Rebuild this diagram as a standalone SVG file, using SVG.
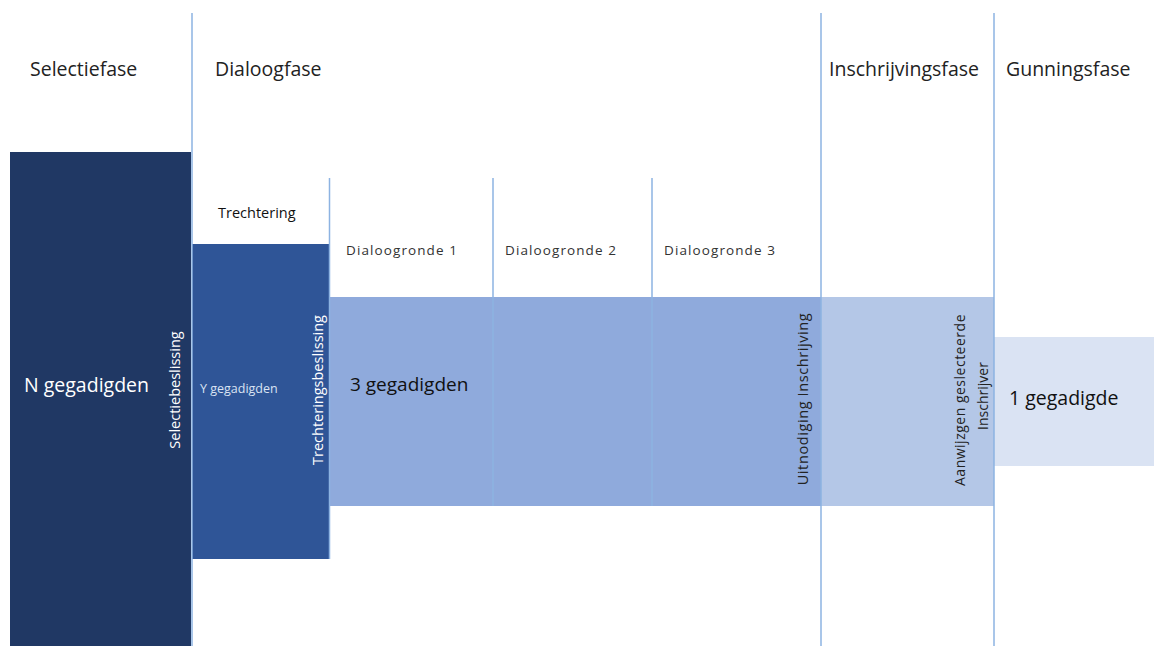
<svg xmlns="http://www.w3.org/2000/svg" width="1154" height="646" viewBox="0 0 1154 646">
<style>
text{font-family:"Open Sans","Liberation Sans",sans-serif}
.ph{font-size:19.5px;fill:#222}
.rd{font-size:13.5px;fill:#333;letter-spacing:1.1px}
.ln{stroke:#8DB3E2;stroke-width:1.5;fill:none}
</style>
<rect width="1154" height="646" fill="#fff"/>
<g id="n-selectie">
<rect x="10" y="152" width="181" height="494" fill="#203864"/>
<text x="24" y="392" font-size="19.5" fill="#fff">N gegadigden</text>
<text transform="translate(180,390) rotate(-90)" text-anchor="middle" font-size="14.5" fill="#fff">Selectiebeslissing</text>
</g>
<g id="n-trechter">
<rect x="192" y="244" width="137" height="315" fill="#2F5597"/>
<text x="200" y="393" font-size="12.5" fill="#DAE3F3">Y gegadigden</text>
<text transform="translate(323,390) rotate(-90)" text-anchor="middle" font-size="14.5" fill="#fff">Trechteringsbeslissing</text>
</g>
<g id="n-dialoog">
<rect x="330" y="297" width="491" height="209" fill="#8FAADC"/>
<text x="350" y="391" font-size="19" fill="#111">3 gegadigden</text>
<text transform="translate(808,399) rotate(-90)" text-anchor="middle" font-size="14.5" fill="#222" letter-spacing="0.6">Uitnodiging Inschrijving</text>
</g>
<g id="n-inschrijving">
<rect x="821" y="297" width="173" height="209" fill="#B4C7E7"/>
<text transform="translate(965,400) rotate(-90)" text-anchor="middle" font-size="14" fill="#222" letter-spacing="0.5">Aanwijzgen geslecteerde</text>
<text transform="translate(988,396) rotate(-90)" text-anchor="middle" font-size="14" fill="#222">Inschrijver</text>
</g>
<g id="n-gunning">
<rect x="994" y="337" width="160" height="129" fill="#DAE3F3"/>
<text x="1009" y="405" font-size="19.5" fill="#111">1 gegadigde</text>
</g>
<g id="labels">
<text class="ph" x="30" y="76">Selectiefase</text>
<text class="ph" x="215" y="76">Dialoogfase</text>
<text class="ph" x="829" y="76">Inschrijvingsfase</text>
<text class="ph" x="1006" y="76">Gunningsfase</text>
<text x="218" y="218" font-size="14.5" fill="#111">Trechtering</text>
<text class="rd" x="346" y="255">Dialoogronde 1</text>
<text class="rd" x="505" y="255">Dialoogronde 2</text>
<text class="rd" x="664" y="255">Dialoogronde 3</text>
</g>
<g id="connectors">
<line class="ln" x1="192" y1="13" x2="192" y2="646"/>
<line class="ln" x1="821" y1="13" x2="821" y2="646"/>
<line class="ln" x1="994" y1="13" x2="994" y2="646"/>
<line class="ln" x1="329.5" y1="178" x2="329.5" y2="559"/>
<line class="ln" x1="493" y1="178" x2="493" y2="506"/>
<line class="ln" x1="652" y1="178" x2="652" y2="506"/>
</g>
</svg>
